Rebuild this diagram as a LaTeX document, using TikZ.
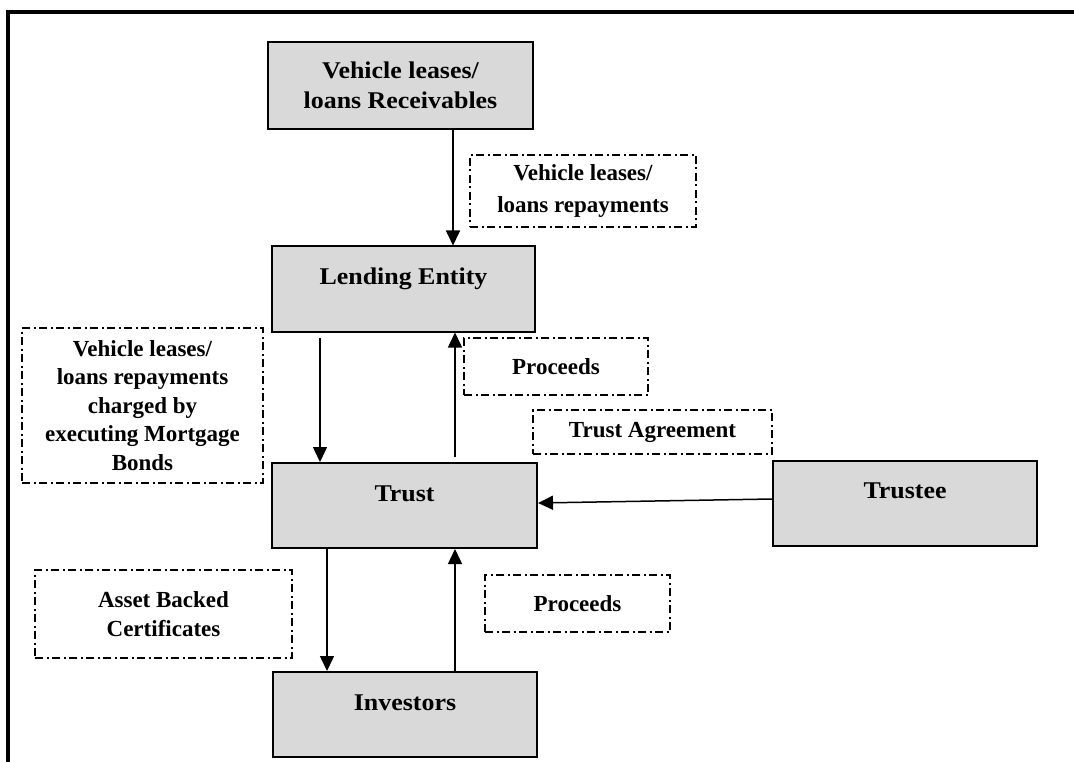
\documentclass[tikz,border=0pt]{standalone}
\usepackage{fontspec}
\setmainfont{Liberation Serif}
\newfontfamily\boxfont[FakeStretch=1.08]{Liberation Serif}
\usetikzlibrary{arrows.meta}
\definecolor{boxgray}{RGB}{217,217,217}
\tikzset{
  boxtxt/.style={font=\boxfont\bfseries\fontsize{24}{30}\selectfont},
  lbltxt/.style={font=\bfseries\fontsize{23}{30}\selectfont},
  solidbox/.style={draw, line width=2pt, fill=boxgray, inner sep=0pt, boxtxt},
  onerow/.style={text height=38pt, text depth=47pt},
  lbl/.style={draw, line width=1.5pt, dash pattern=on 8pt off 3.5pt on 2pt off 3.5pt, inner sep=0pt, align=center, lbltxt},
  arr/.style={line width=1.5pt, -{Triangle[length=15pt,width=14pt]}}
}
\begin{document}
\begin{tikzpicture}[x=1pt,y=-1pt]
\useasboundingbox (0,0) rectangle (1074,762);
\draw[line width=4pt] (8,770) -- (8,12.5) -- (1080,12.5);

\node[solidbox, minimum width=265pt, minimum height=87pt, align=center] (rec) at (400.5,85.5) {Vehicle leases/\\loans Receivables};
\node[solidbox, onerow, minimum width=263pt] (lend) at (403.5,289) {Lending Entity};
\node[solidbox, onerow, minimum width=265pt] (trust) at (404.5,505.5) {Trust};
\node[solidbox, onerow, minimum width=264pt] (inv) at (405,714.5) {Investors};
\node[solidbox, onerow, minimum width=264pt] (trustee) at (905,503) {Trustee};

\node[lbl, minimum width=226pt, minimum height=72pt, font=\bfseries\fontsize{23}{32}\selectfont] (l1) at (583,191) {Vehicle leases/\\loans repayments};
\node[lbl, minimum width=241pt, minimum height=155pt, font=\bfseries\fontsize{23}{28.5}\selectfont] (l2) at (142.5,405.5) {Vehicle leases/\\loans repayments\\charged by\\executing Mortgage\\Bonds};
\node[lbl, minimum width=184pt, minimum height=57pt] (p1) at (556,366.5) {Proceeds};
\node[lbl, minimum width=239pt, minimum height=44pt] (ta) at (652.5,432) {Trust Agreement};
\node[lbl, minimum width=257pt, minimum height=88pt, font=\bfseries\fontsize{23}{28.5}\selectfont] (abc) at (163.5,614) {Asset Backed\\Certificates};
\node[lbl, minimum width=185pt, minimum height=57pt] (p2) at (577.5,603.5) {Proceeds};

\draw[arr] ([xshift=52.5pt]rec.south) -- ([xshift=49.5pt]lend.north);
\draw[arr] ([xshift=-83.5pt,yshift=-5pt]lend.south) -- ([xshift=-84.5pt]trust.north);
\draw[arr] ([xshift=50.5pt,yshift=5pt]trust.north) -- ([xshift=51.5pt]lend.south);
\draw[arr] ([yshift=4pt]trustee.west) -- ([yshift=2.5pt]trust.east);
\draw[arr] ([xshift=-77.5pt]trust.south) -- ([xshift=-78pt]inv.north);
\draw[arr] ([xshift=50pt]inv.north) -- ([xshift=50.5pt]trust.south);
\end{tikzpicture}
\end{document}
